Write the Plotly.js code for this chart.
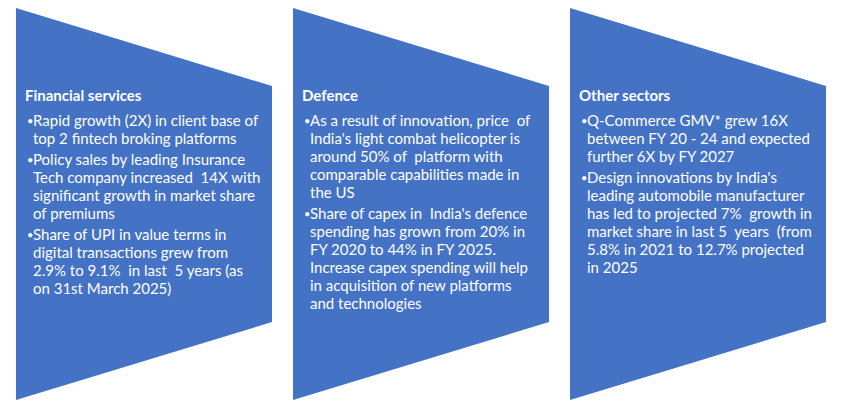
<!DOCTYPE html>
<html>
<head>
<meta charset="utf-8">
<script src="https://cdn.plot.ly/plotly-3.0.1.min.js"></script>
<style>
  html, body { margin: 0; padding: 0; background: #ffffff; }
  #chart { width: 849px; height: 409px; }
</style>
</head>
<body>
<div id="chart"></div>
<script>
// panel headings
const panelTitles = ['Financial services', 'Defence', 'Other sectors'];

// bullets per panel, each bullet split in its wrapped lines
const financeLines = [
    ['Rapid growth (2X) in client base of', 'top 2 fintech broking platforms'],
    ['Policy sales by leading Insurance', 'Tech company increased  14X with', 'significant growth in market share', 'of premiums'],
    ['Share of UPI in value terms in', 'digital transactions grew from', '2.9% to 9.1%  in last  5 years (as', 'on 31st March 2025)']
];
const defenceLines = [
    ['As a result of innovation, price  of', "India's light combat helicopter is", 'around 50% of  platform with', 'comparable capabilities made in', 'the US'],
    ["Share of capex in  India's defence", 'spending has grown from 20% in', 'FY 2020 to 44% in FY 2025.', 'Increase capex spending will help', 'in acquisition of new platforms', 'and technologies']
];
const otherLines = [
    ['Q-Commerce GMV* grew 16X', 'between FY 20 - 24 and expected', 'further 6X by FY 2027'],
    ["Design innovations by India's", 'leading automobile manufacturer', 'has led to projected 7%  growth in', 'market share in last 5  years  (from', '5.8% in 2021 to 12.7% projected', 'in 2025']
];

function main() {
    const panels = [financeLines, defenceLines, otherLines];
    const panelLeft = [16, 293, 570];
    const panelW = 256;
    const blue = '#4472C4';
    const font = 'Lato, "Liberation Sans", sans-serif';
    const fontSize = 15;

    // keep double spaces visible
    const keepSpaces = s => s.replace(/  /g, ' \u00A0');

    var shapes = [];
    var annotations = [];

    panels.forEach((bullets, i) => {
        const x0 = panelLeft[i], x1 = x0 + panelW;
        shapes.push({
            type: 'path', xref: 'x', yref: 'y',
            path: `M${x0},8 L${x1},86 L${x1},322 L${x0},400 Z`,
            fillcolor: blue, line: {width: 0}, layer: 'below'
        });

        annotations.push({
            x: x0 + 7, y: 95, xref: 'x', yref: 'y', xanchor: 'left', yanchor: 'middle',
            text: '<b>' + panelTitles[i] + '</b>', showarrow: false,
            font: {family: font, size: fontSize, color: '#ffffff'}
        });

        var y = 120;
        bullets.forEach(lines => {
            annotations.push({
                x: x0 + 9, y: y, xref: 'x', yref: 'y', xanchor: 'left', yanchor: 'middle',
                text: '\u2022', showarrow: false,
                font: {family: font, size: 11, color: '#ffffff'}
            });
            lines.forEach(line => {
                annotations.push({
                    x: x0 + 15, y: y, xref: 'x', yref: 'y', xanchor: 'left', yanchor: 'middle',
                    text: keepSpaces(line), showarrow: false,
                    font: {family: font, size: fontSize, color: '#ffffff'}
                });
                y += 18;
            });
            y += 3;
        });
    });

    var layout = {
        width: 849, height: 409,
        margin: {l: 0, r: 0, t: 0, b: 0},
        paper_bgcolor: '#ffffff', plot_bgcolor: '#ffffff',
        xaxis: {range: [0, 849], visible: false, fixedrange: true},
        yaxis: {range: [409, 0], visible: false, fixedrange: true},
        showlegend: false,
        shapes: shapes,
        annotations: annotations
    };

    Plotly.newPlot('chart', [], layout, {staticPlot: true, displayModeBar: false});
}
main();
</script>
</body>
</html>
